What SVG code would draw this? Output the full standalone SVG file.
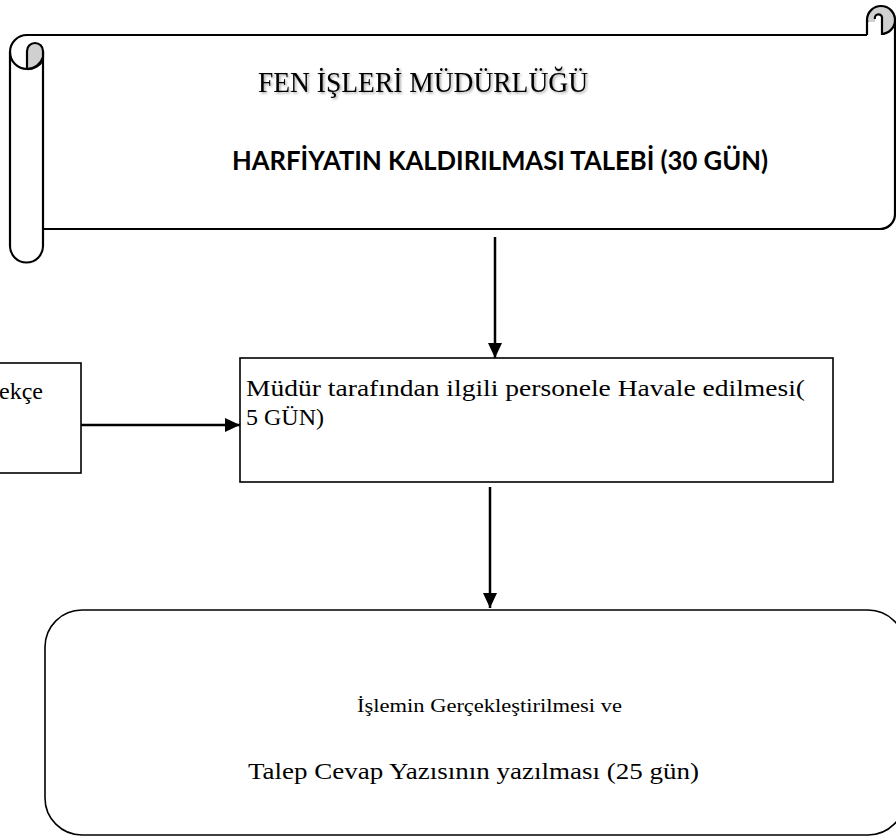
<svg xmlns="http://www.w3.org/2000/svg" width="896" height="836" viewBox="0 0 896 836">
<style>
.ln{fill:none;stroke:#000;stroke-width:2.2;stroke-linejoin:round}
.box{fill:#fff;stroke:#000;stroke-width:1.6}
.con{fill:none;stroke:#000;stroke-width:2.5}
.serif{font-family:"Liberation Serif","Times New Roman",serif;fill:#000}
.bold{font-family:Lato,"Liberation Sans",sans-serif;font-weight:bold;fill:#000}
.gray{fill:#d0d0d0;stroke:#000;stroke-width:2.2}
</style>
<defs>
<marker id="ah" markerWidth="16" markerHeight="16" refX="15" refY="8" orient="auto" markerUnits="userSpaceOnUse" viewBox="0 0 16 16">
<path d="M0,1 L15,8 L0,15 Z" fill="#000"/>
</marker>
<filter id="sh" x="-5%" y="-20%" width="110%" height="140%">
<feDropShadow dx="1.5" dy="1.5" stdDeviation="1" flood-color="#000" flood-opacity="0.35"/>
</filter>
</defs>
<g id="scroll">
<path class="ln" d="M27,35 L867,35"/>
<path class="ln" d="M44,229 L880,229 A15,15 0 0 0 895,214 L895,20"/>
<circle class="gray" cx="881" cy="20" r="14"/>
<path d="M868,22 L868,35 L882,35 L882,19 A3.5,3.5 0 0 0 875,19 L875,22 Z" fill="#fff"/>
<path class="ln" d="M867,20 L867,35 M882,35 L882,17 A3.5,3.5 0 0 0 875,19"/>
<path class="ln" d="M27,35 A17,17 0 0 0 10,52 L10,246 A16.5,16.5 0 0 0 43,246 L43,51"/>
<path class="gray" d="M27,51 A8,8 0 0 1 43,51 L43,57 A17,17 0 0 1 27,69 Z"/>
<path class="ln" d="M10,52 A17,17 0 0 0 27,69 A17,17 0 0 0 43,60"/>
<text class="serif" x="258" y="92" font-size="29" filter="url(#sh)" textLength="330" lengthAdjust="spacingAndGlyphs">FEN İŞLERİ MÜDÜRLÜĞÜ</text>
<text class="bold" x="232" y="170" font-size="26" textLength="536" lengthAdjust="spacingAndGlyphs">HARFİYATIN KALDIRILMASI TALEBİ (30 GÜN)</text>
</g>
<g id="dilekce">
<rect class="box" x="-10" y="363" width="91" height="110"/>
<text class="serif" x="-1" y="399" font-size="24">ekçe</text>
</g>
<g id="havale">
<rect class="box" x="240" y="358" width="593" height="124"/>
<text class="serif" x="246" y="396" font-size="24" textLength="559" lengthAdjust="spacingAndGlyphs">Müdür tarafından ilgili personele Havale edilmesi(</text>
<text class="serif" x="246" y="425" font-size="24">5 GÜN)</text>
</g>
<g id="islem">
<rect class="box" x="45" y="610" width="860" height="225" rx="37" ry="37"/>
<text class="serif" x="357" y="712" font-size="19" textLength="265" lengthAdjust="spacingAndGlyphs">İşlemin Gerçekleştirilmesi  ve</text>
<text class="serif" x="248" y="779" font-size="24" textLength="451" lengthAdjust="spacingAndGlyphs">Talep Cevap Yazısının yazılması (25 gün)</text>
</g>
<g id="connectors">
<line class="con" x1="495" y1="237" x2="495" y2="358" marker-end="url(#ah)"/>
<line class="con" x1="81" y1="425" x2="240" y2="425" marker-end="url(#ah)"/>
<line class="con" x1="490" y1="487" x2="490" y2="608" marker-end="url(#ah)"/>
</g>
</svg>
